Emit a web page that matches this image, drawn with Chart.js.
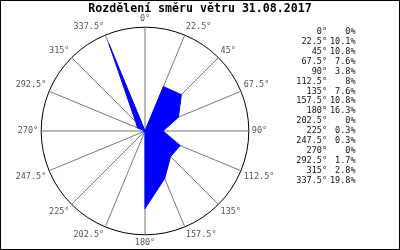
<!DOCTYPE html>
<html>
<head>
<meta charset="utf-8">
<script src="https://cdn.jsdelivr.net/npm/chart.js@4.4.1/dist/chart.umd.min.js"></script>
<style>
  html, body { margin: 0; padding: 0; background: #fff; }
  #wrap { width: 400px; height: 250px; position: relative; }
</style>
</head>
<body>
<div id="wrap"><canvas id="rose" width="400" height="250"></canvas></div>
<script>
// wind direction sectors (deg) and share of time (%)
const directions = [0, 22.5, 45, 67.5, 90, 112.5, 135, 157.5, 180, 202.5, 225, 247.5, 270, 292.5, 315, 337.5];
const shares = [0, 10.1, 10.8, 7.6, 3.8, 8, 7.6, 10.8, 16.3, 0, 0.3, 0.3, 0, 1.7, 2.8, 19.8];
const titleText = 'Rozdělení směru větru 31.08.2017';
const radiusMax = 21.8;

const mono = '"DejaVu Sans Mono", "Liberation Mono", monospace';
const dirLabels = directions.map(d => d + '°');

// title centred over whole picture, table of values on the right, frame
const extrasPlugin = {
    id: 'extras',
    afterDraw(chart) {
        const ctx = chart.ctx;
        ctx.save();
        ctx.fillStyle = '#000';
        ctx.textAlign = 'center';
        ctx.textBaseline = 'middle';
        ctx.font = 'bold 11.6px ' + mono;
        ctx.fillText(titleText, 200, 8.5);

        ctx.font = '8.5px ' + mono;
        ctx.fillStyle = '#111';
        ctx.textAlign = 'right';
        dirLabels.forEach((lab, i) => {
            const y = 31.5 + i * 9.97;
            ctx.fillText(lab, 327, y);
            ctx.fillText(shares[i] + '%', 355.5, y);
        });

        ctx.strokeStyle = '#000';
        ctx.lineWidth = 1;
        ctx.strokeRect(0.5, 0.5, chart.width - 1, chart.height - 1);
        ctx.restore();
    }
};

const chart = new Chart(document.getElementById('rose').getContext('2d'), {
    type: 'radar',
    data: {
        labels: dirLabels,
        datasets: [{
            data: shares,
            backgroundColor: '#0000ff',
            borderColor: '#0000ff',
            borderWidth: 1,
            fill: true,
            pointRadius: 0,
            tension: 0,
            segment: {
                borderColor: c => c.p0DataIndex === 1 ? '#00cc00' : '#0000ff'
            }
        }]
    },
    options: {
        responsive: false,
        animation: false,
        layout: { padding: { left: 6, right: 114, top: 14, bottom: 2 } },
        plugins: {
            legend: { display: false },
            tooltip: { enabled: false },
            title: { display: false }
        },
        scales: {
            r: {
                min: 0,
                max: radiusMax,
                ticks: { display: false, stepSize: radiusMax },
                grid: { color: '#000', lineWidth: 1, circular: true },
                angleLines: { color: '#777', lineWidth: 1 },
                pointLabels: {
                    color: '#555',
                    padding: 3,
                    font: { family: mono, size: 8.5 }
                }
            }
        }
    },
    plugins: [extrasPlugin]
});
</script>
</body>
</html>
